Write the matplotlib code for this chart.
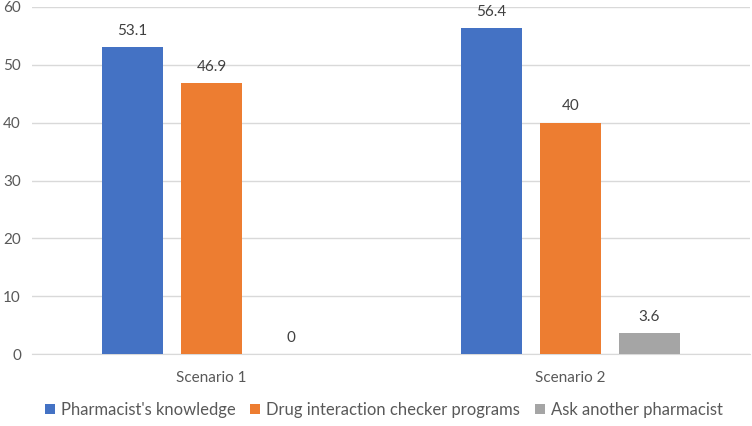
import matplotlib
matplotlib.use('Agg')
import matplotlib.pyplot as plt
import numpy as np

plt.rcParams['font.family'] = ['Lato', 'DejaVu Sans']

scenarios = ['Scenario 1', 'Scenario 2']
series = ["Pharmacist's knowledge", 'Drug interaction checker programs', 'Ask another pharmacist']
knowledge = [53.1, 56.4]
checker = [46.9, 40]
another = [0, 3.6]
labels = [['53.1', '56.4'], ['46.9', '40'], ['0', '3.6']]
colors = ['#4472C4', '#ED7D31', '#A5A5A5']

fig = plt.figure(figsize=(7.52, 4.26), dpi=100)
ax = fig.add_axes([32/752, 1-354/426, 718/752, 347/426])

x = np.arange(len(scenarios))
width = 0.172
step = 0.22
text_col = '#595959'
for i, (vals, name) in enumerate(zip([knowledge, checker, another], series)):
    pos = x + (i - 1) * step
    bars = ax.bar(pos, vals, width, color=colors[i], label=name, zorder=3)
    for b, v, lab in zip(bars, vals, labels[i]):
        ax.text(b.get_x() + b.get_width()/2, v + 1.6, lab, ha='center', va='bottom',
                fontsize=11, color='#404040')

ax.set_xlim(-0.5, 1.5)
ax.set_ylim(0, 60)
ax.set_yticks(range(0, 61, 10))
ax.set_xticks(x)
ax.set_xticklabels(scenarios)
ax.grid(axis='y', color='#D9D9D9', linewidth=1, zorder=0)
for s in ['top', 'right', 'left']:
    ax.spines[s].set_visible(False)
ax.spines['bottom'].set_color('#D9D9D9')
ax.tick_params(axis='both', length=0, labelsize=11, colors=text_col)
ax.tick_params(axis='x', pad=12)
ax.tick_params(axis='y', pad=8)

ax.legend(loc='center', bbox_to_anchor=(0.49, -0.161), ncol=3, frameon=False,
          fontsize=12, handlelength=0.6, handleheight=0.6, handletextpad=0.35,
          columnspacing=0.9, labelcolor=text_col)

fig.savefig('out.png', dpi=100)
